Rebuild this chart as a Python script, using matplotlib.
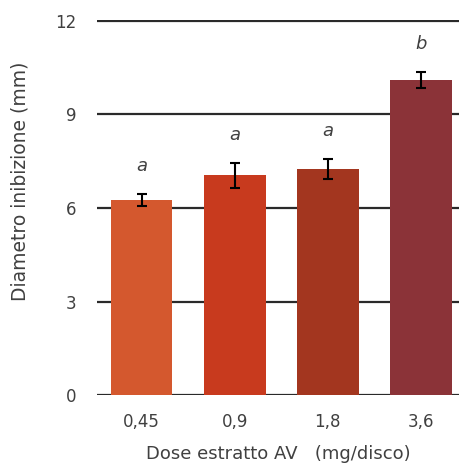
import matplotlib
matplotlib.use('Agg')
import matplotlib.pyplot as plt

# dati
doses = ['0,45', '0,9', '1,8', '3,6']
diametro = [6.25, 7.05, 7.25, 10.1]
errori = [0.2, 0.4, 0.32, 0.27]
lettere = ['a', 'a', 'a', 'b']
colori = ['#D4582E', '#C83A1E', '#A3361F', '#8B3338']

plt.rcParams['font.family'] = 'DejaVu Sans'
testo = '#404040'

fig = plt.figure(figsize=(4.6, 4.71), dpi=100)
ax = fig.add_axes([0.211, 0.161, 0.789, 0.797])

x = list(range(len(doses)))
ax.set_axisbelow(True)
ax.bar(x, diametro, width=0.66, color=colori, zorder=2)
ax.errorbar(x, diametro, yerr=errori, fmt='none', ecolor='black',
            elinewidth=1.5, capsize=3.5, capthick=1.5, zorder=3)

for xi, v, e, l in zip(x, diametro, errori, lettere):
    ax.text(xi, v + e + 0.88, l, ha='center', va='center', style='italic',
            fontsize=13, color=testo)

ax.set_ylim(0, 12.03)
ax.set_xlim(-0.48, 3.42)
ax.set_yticks([0, 3, 6, 9, 12])
ax.yaxis.grid(True, color='#2a2a2a', linewidth=1.6, zorder=0)
ax.tick_params(axis='y', length=0, labelsize=12, colors=testo, pad=15)
ax.tick_params(axis='x', length=0, labelsize=12, colors=testo, pad=13)
ax.set_xticks(x)
ax.set_xticklabels(doses)
for s in ax.spines.values():
    s.set_visible(False)

ax.set_ylabel('Diametro inibizione (mm)', fontsize=13.5, color=testo)
ax.yaxis.set_label_coords(-0.185, 0.57)
ax.set_xlabel('Dose estratto AV   (mg/disco)', fontsize=13, color=testo, labelpad=10)

fig.savefig('out.png', dpi=100)
